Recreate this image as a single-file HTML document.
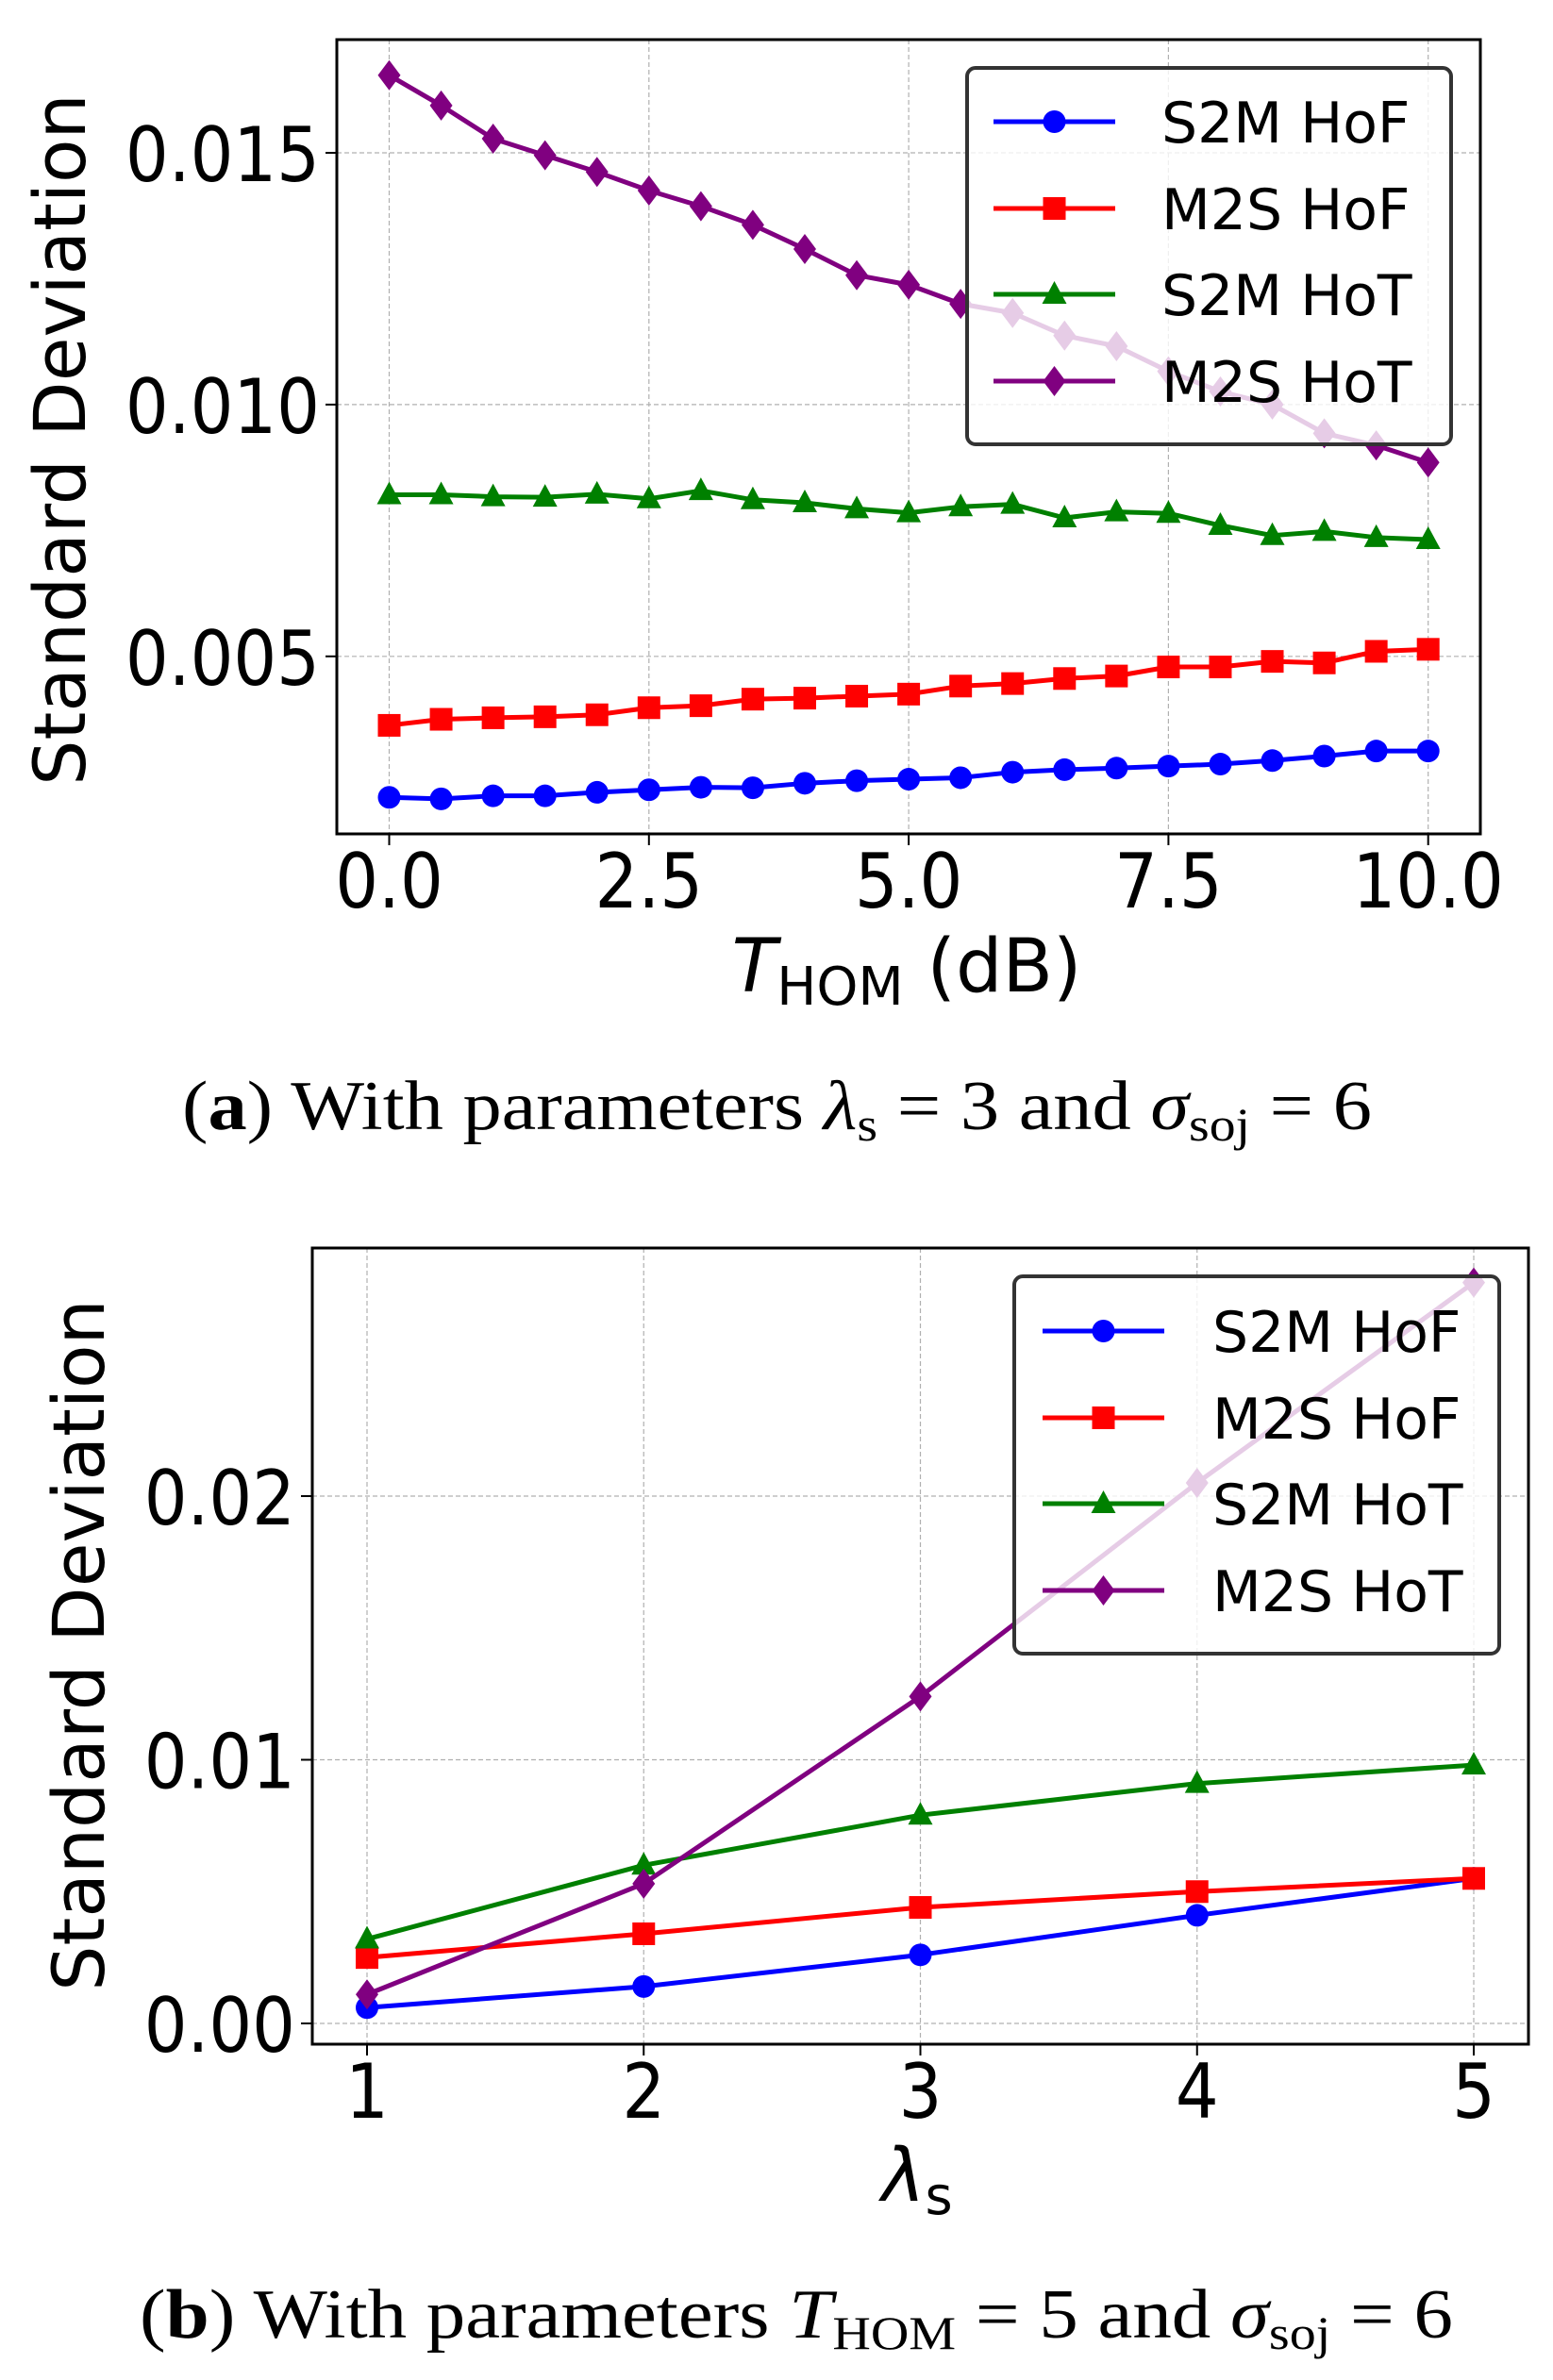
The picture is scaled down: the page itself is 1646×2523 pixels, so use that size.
<!DOCTYPE html>
<html><head><meta charset="utf-8"><style>
html,body{margin:0;padding:0;background:#fff}
svg{display:block}
text{font-family:"DejaVu Sans","Liberation Sans",sans-serif}
.cap{font-family:"Liberation Serif",serif}
</style></head><body>
<svg id="svg" width="1646" height="2523" viewBox="0 0 1646 2523" xmlns="http://www.w3.org/2000/svg">
</svg>
<script>
// ---- Chart A data ----
const xA = [0,0.5,1,1.5,2,2.5,3,3.5,4,4.5,5,5.5,6,6.5,7,7.5,8,8.5,9,9.5,10];
const aS2MHoF = [0.0022,0.00217,0.00223,0.00223,0.0023,0.00235,0.0024,0.00239,0.00248,0.00253,0.00256,0.00259,0.0027,0.00275,0.00278,0.00282,0.00286,0.00293,0.00302,0.00312,0.00312];
const aM2SHoF = [0.00363,0.00375,0.00378,0.0038,0.00384,0.00398,0.00402,0.00415,0.00417,0.00421,0.00425,0.00441,0.00446,0.00456,0.00461,0.00479,0.00479,0.0049,0.00487,0.0051,0.00514];
const aS2MHoT = [0.00821,0.00821,0.00817,0.00816,0.00822,0.00813,0.00829,0.00811,0.00805,0.00793,0.00785,0.00797,0.00802,0.00775,0.00787,0.00784,0.0076,0.0074,0.00748,0.00736,0.00732];
const aM2SHoT = [0.01654,0.01594,0.01528,0.01495,0.01462,0.01425,0.01394,0.01357,0.01309,0.01257,0.01238,0.0120,0.01182,0.01137,0.01116,0.01066,0.01026,0.0100,0.00943,0.00919,0.00885];
const aXTicks = [0,2.5,5,7.5,10];
const aXTickLabels = ["0.0","2.5","5.0","7.5","10.0"];
const aYTicks = [0.005,0.010,0.015];
const aYTickLabels = ["0.005","0.010","0.015"];
// ---- Chart B data ----
const xB = [1,2,3,4,5];
const bS2MHoF = [0.0006,0.0014,0.0026,0.0041,0.0055];
const bM2SHoF = [0.0025,0.0034,0.0044,0.005,0.0055];
const bS2MHoT = [0.0032,0.006,0.0079,0.0091,0.0098];
const bM2SHoT = [0.0011,0.0053,0.0124,0.0205,0.0281];
const bXTicks = [1,2,3,4,5];
const bXTickLabels = ["1","2","3","4","5"];
const bYTicks = [0,0.01,0.02];
const bYTickLabels = ["0.00","0.01","0.02"];
const seriesNames = ["S2M HoF","M2S HoF","S2M HoT","M2S HoT"];

const NS="http://www.w3.org/2000/svg";
const svg=document.getElementById('svg');
function mk(tag,attrs,parent){const e=document.createElementNS(NS,tag);for(const k in attrs)e.setAttribute(k,attrs[k]);(parent||svg).appendChild(e);return e;}
function squeeze(t){try{const w=t.getComputedTextLength();if(w>0){t.setAttribute('textLength',(w*0.9).toFixed(1));t.setAttribute('lengthAdjust','spacingAndGlyphs');}}catch(e){}}
const colors=["#0000ff","#ff0000","#008000","#800080"];
const shapes=["circle","square","triangle","diamond"];
function marker(g,shape,x,y,col){
  let e;
  if(shape==="circle") e=mk('circle',{cx:x,cy:y,r:12,fill:col},g);
  else if(shape==="square") e=mk('rect',{x:x-12,y:y-12,width:24,height:24,fill:col},g);
  else if(shape==="triangle") e=mk('polygon',{points:`${x},${y-14} ${x+13},${y+10} ${x-13},${y+10}`,fill:col},g);
  else e=mk('polygon',{points:`${x},${y-16} ${x+12},${y} ${x},${y+16} ${x-12},${y}`,fill:col},g);
  return e;
}
function chart(o){
  const sx=v=>o.x0+(v-o.xv0)*(o.x1-o.x0)/(o.xv1-o.xv0);
  const sy=v=>o.y0+(v-o.yv0)*(o.y1-o.y0)/(o.yv1-o.yv0);
  const g=mk('g',{});
  
  
  o.xt.forEach((t,i)=>{
    const l=mk('line',{x1:sx(t),x2:sx(t),y1:o.top,y2:o.bot,stroke:"#b0b0b0","stroke-width":1.2,"stroke-dasharray":"5,3"},g);
    
    
    const tk=mk('line',{x1:sx(t),x2:sx(t),y1:o.bot,y2:o.bot+12,stroke:"#000","stroke-width":2},g);
    
    
    const tx=mk('text',{x:sx(t),y:o.xtBase,"font-size":o.fs,"text-anchor":"middle",fill:"#000"},g);
    tx.textContent=o.xtl[i];
    
    
    squeeze(tx);
  });
  o.yt.forEach((t,i)=>{
    const l=mk('line',{x1:o.left,x2:o.right,y1:sy(t),y2:sy(t),stroke:"#b0b0b0","stroke-width":1.2,"stroke-dasharray":"5,3"},g);
    
    
    const tk=mk('line',{x1:o.left-12,x2:o.left,y1:sy(t),y2:sy(t),stroke:"#000","stroke-width":2},g);
    
    
    const tx=mk('text',{x:o.left-18,y:sy(t)+30,"font-size":o.fs,"text-anchor":"end",fill:"#000"},g);
    tx.textContent=o.ytl[i];
    
    
    squeeze(tx);
  });
  o.series.forEach((s,k)=>{
    const pts=o.xs.map((x,i)=>sx(x)+","+sy(s[i])).join(" ");
    const pl=mk('polyline',{points:pts,fill:"none",stroke:colors[k],"stroke-width":5,"stroke-linejoin":"round"},g);
    
    
    o.xs.forEach((x,i)=>{
      const m=marker(g,shapes[k],sx(x),sy(s[i]),colors[k]);
      
      
    });
  });
  const fr=mk('rect',{x:o.left,y:o.top,width:o.right-o.left,height:o.bot-o.top,fill:"none",stroke:"#000","stroke-width":3},g);
  
  
  const L=o.leg;
  const lg=mk('g',{},g);
  
  
  mk('rect',{x:L.x,y:L.y,width:L.w,height:L.h,rx:9,fill:"#fff","fill-opacity":0.8,stroke:"#333","stroke-width":4},lg);
  seriesNames.forEach((n,k)=>{
    const y=L.ys[k];
    const e=mk('g',{},lg);
    
    
    mk('line',{x1:L.lx0,x2:L.lx1,y1:y,y2:y,stroke:colors[k],"stroke-width":5},e);
    marker(e,shapes[k],(L.lx0+L.lx1)/2,y,colors[k]);
    const t=mk('text',{x:L.tx,y:y+22,"font-size":60,fill:"#000"},e);
    t.textContent=n;
  });
}
chart({name:"chart-a",left:357,right:1569,top:42,bot:884,x0:412.5,x1:1513.7,xv0:0,xv1:10,y0:695.8,y1:162,yv0:0.005,yv1:0.015,
  xt:aXTicks,xtl:aXTickLabels,yt:aYTicks,ytl:aYTickLabels,xtBase:962,fs:80,xs:xA,series:[aS2MHoF,aM2SHoF,aS2MHoT,aM2SHoT],
  leg:{x:1025,y:72,w:513,h:399,ys:[129,221,312,404],lx0:1053,lx1:1182,tx:1231}});
chart({name:"chart-b",left:331,right:1620,top:1323,bot:2167,x0:389,x1:1562,xv0:1,xv1:5,y0:2145,y1:1586,yv0:0,yv1:0.02,
  xt:bXTicks,xtl:bXTickLabels,yt:bYTicks,ytl:bYTickLabels,xtBase:2245,fs:80,xs:xB,series:[bS2MHoF,bM2SHoF,bS2MHoT,bM2SHoT],
  leg:{x:1075,y:1353,w:514,h:400,ys:[1411,1503,1594,1686],lx0:1105,lx1:1234,tx:1285}});
</script>
<svg style="position:absolute;left:0;top:0" width="1646" height="2523" viewBox="0 0 1646 2523" xmlns="http://www.w3.org/2000/svg">
  <text transform="translate(90,466) rotate(-90)" font-size="76" text-anchor="middle" font-family="DejaVu Sans, sans-serif">Standard Deviation</text>
  <text x="961" y="1051" font-size="78" text-anchor="middle" font-family="DejaVu Sans, sans-serif"><tspan font-style="italic">T</tspan><tspan font-size="56" dy="14">HOM</tspan><tspan dy="-14"> (dB)</tspan></text>
  <text class="cap" x="193" y="1197" font-size="74" textLength="1261" lengthAdjust="spacingAndGlyphs" font-family="Liberation Serif, serif">(<tspan font-weight="bold">a</tspan>) With parameters <tspan font-style="italic">λ</tspan><tspan font-size="50" dy="12">s</tspan><tspan dy="-12"> = 3 and </tspan><tspan font-style="italic">σ</tspan><tspan font-size="50" dy="12">soj</tspan><tspan dy="-12"> = 6</tspan></text>
  <text transform="translate(110,1744) rotate(-90)" font-size="76" text-anchor="middle" font-family="DejaVu Sans, sans-serif">Standard Deviation</text>
  <text x="972" y="2333" font-size="78" text-anchor="middle" font-family="DejaVu Sans, sans-serif"><tspan font-style="italic">λ</tspan><tspan font-size="56" dy="14">s</tspan></text>
  <text class="cap" x="148" y="2478" font-size="74" textLength="1392" lengthAdjust="spacingAndGlyphs" font-family="Liberation Serif, serif">(<tspan font-weight="bold">b</tspan>) With parameters <tspan font-style="italic">T</tspan><tspan font-size="50" dy="12">HOM</tspan><tspan dy="-12"> = 5 and </tspan><tspan font-style="italic">σ</tspan><tspan font-size="50" dy="12">soj</tspan><tspan dy="-12"> = 6</tspan></text>
</svg>
</body></html>
